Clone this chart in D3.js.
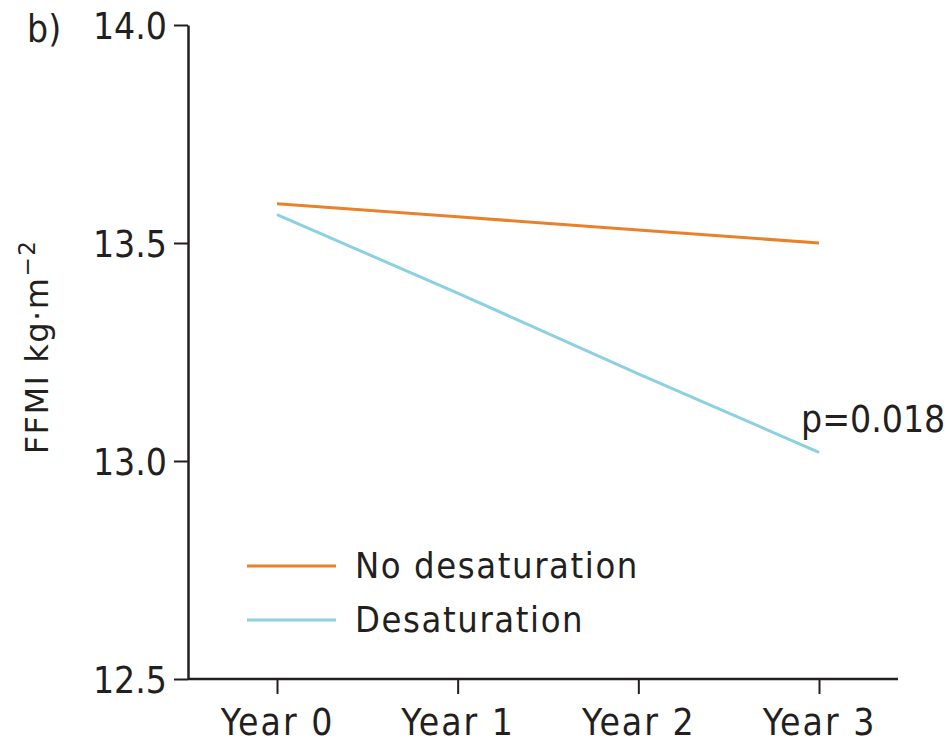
<!DOCTYPE html>
<html>
<head>
<meta charset="utf-8">
<script src="https://cdn.jsdelivr.net/npm/d3@7"></script>
<style>
  body { margin: 0; background: #fff; }
  text { font-family: "DejaVu Sans Condensed", "DejaVu Sans", sans-serif; fill: #231f20; }
</style>
</head>
<body>
<svg id="chart"></svg>
<script>
// data
var years = ["Year 0", "Year 1", "Year 2", "Year 3"];
var noDesat = [13.59, 13.56, 13.53, 13.50];
var desat = [13.565, 13.385, 13.20, 13.02];
var seriesNames = ["No desaturation", "Desaturation"];
var seriesColors = ["#e8822a", "#8dd0e2"];
var yTicks = [12.5, 13.0, 13.5, 14.0];

var width = 950, height = 744;
var svg = d3.select("#chart").attr("width", width).attr("height", height);

var x = d3.scalePoint().domain(years).range([277, 819]);
var y = d3.scaleLinear().domain([12.5, 14.0]).range([679, 25]);

// y axis
var yAxis = d3.axisLeft(y).tickValues(yTicks).tickFormat(d3.format(".1f"))
    .tickSize(14).tickSizeOuter(0).tickPadding(7);
var gy = svg.append("g").attr("transform", "translate(188,0)").call(yAxis);
gy.select(".domain").attr("stroke", "#231f20").attr("stroke-width", 2.5);
gy.selectAll(".tick line").attr("stroke", "#231f20").attr("stroke-width", 2);
gy.selectAll(".tick text").style("font-size", "37px").attr("fill", "#231f20").attr("dy", "0.36em");

// x axis
var xAxis = d3.axisBottom(x).tickSize(15).tickSizeOuter(0).tickPadding(15);
var gx = svg.append("g").attr("transform", "translate(0,679)").call(xAxis);
gx.select(".domain").attr("d", "M188,0H898").attr("stroke", "#231f20").attr("stroke-width", 2.5);
gx.selectAll(".tick line").attr("stroke", "#231f20").attr("stroke-width", 2);
gx.selectAll(".tick text").style("font-size", "37px").style("letter-spacing", "2px").attr("fill", "#231f20");

// lines
var line = d3.line().x(function (d, i) { return x(years[i]); }).y(function (d) { return y(d); });
[noDesat, desat].forEach(function (s, i) {
  svg.append("path").datum(s)
    .attr("d", line)
    .attr("fill", "none")
    .attr("stroke", seriesColors[i])
    .attr("stroke-width", 3);
});

// y label
svg.append("text")
  .attr("transform", "translate(48,347) rotate(-90)")
  .attr("text-anchor", "middle")
  .style("font-family", "'DejaVu Sans', sans-serif")
  .style("font-size", "32px")
  .style("letter-spacing", "1.5px")
  .html('FFMI kg·m<tspan dy="-13" style="font-size:23px">−2</tspan>');

// panel letter
svg.append("text").attr("x", 27).attr("y", 42).style("font-size", "37px").text("b)");

// p value
svg.append("text").attr("x", 801).attr("y", 432).style("font-size", "37px").text("p=0.018");

// legend
var legend = svg.append("g");
seriesNames.forEach(function (name, i) {
  var ly = 566 + i * 54;
  legend.append("line").attr("x1", 247).attr("x2", 336).attr("y1", ly).attr("y2", ly)
    .attr("stroke", seriesColors[i]).attr("stroke-width", 3);
  legend.append("text").attr("x", 355).attr("y", ly + 12)
    .style("font-size", "36px").style("letter-spacing", "1.6px").text(name);
});
</script>
</body>
</html>
